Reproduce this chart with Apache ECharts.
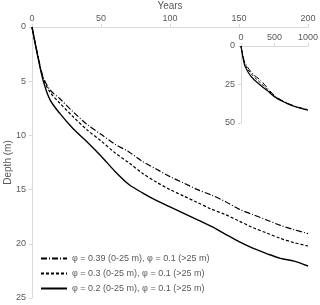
<!DOCTYPE html>
<html><head><meta charset="utf-8">
<script src="https://cdn.jsdelivr.net/npm/echarts@6/dist/echarts.min.js"></script>
<style>html,body{margin:0;padding:0;background:#fff}#c{width:320px;height:305px}</style>
</head><body><div id="c"></div>
<script>
// Main chart (years 0-200)
var years = [0, 4, 8, 13, 20, 30, 40, 50, 60, 70, 80, 90, 100, 110, 120, 130, 140, 150, 160, 170, 180, 190, 200];
var depthPhi02  = [0, 2.6, 4.9, 6.7, 7.95, 9.4, 10.6, 11.9, 13.3, 14.5, 15.3, 16.0, 16.6, 17.2, 17.8, 18.4, 19.1, 19.8, 20.4, 20.9, 21.35, 21.6, 22.05];
var depthPhi03  = [0, 2.5, 4.7, 6.0, 7.0, 8.3, 9.5, 10.5, 11.6, 12.5, 13.5, 14.3, 15.0, 15.6, 16.2, 16.8, 17.3, 17.9, 18.5, 19.0, 19.5, 19.9, 20.2];
var depthPhi039 = [0, 2.5, 4.6, 5.8, 6.6, 7.85, 9.0, 9.9, 10.8, 11.5, 12.4, 13.1, 13.8, 14.4, 15.0, 15.5, 16.1, 16.8, 17.3, 17.8, 18.3, 18.7, 19.06];
// Inset (years 0-1000)
var longYears = [0, 50, 100, 150, 200, 300, 400, 500, 600, 700, 800, 900, 1000];
var longPhi02  = [0, 11.9, 16.6, 19.8, 22.05, 25.8, 29.3, 33.0, 35.6, 37.6, 39.3, 40.6, 41.6];
var longPhi03  = [0, 10.5, 15.0, 17.9, 20.2, 24.3, 28.6, 32.6, 35.3, 37.4, 39.1, 40.4, 41.4];
var longPhi039 = [0, 9.9, 13.8, 16.8, 19.06, 22.6, 27.6, 32.2, 35.1, 37.3, 39.0, 40.3, 41.3];
var names = ['\u03c6 = 0.39 (0-25 m), \u03c6 = 0.1 (>25 m)', '\u03c6 = 0.3 (0-25 m), \u03c6 = 0.1 (>25 m)', '\u03c6 = 0.2 (0-25 m), \u03c6 = 0.1 (>25 m)'];
var xTicks = [0, 50, 100, 150, 200];
var yTicks = [0, 5, 10, 15, 20, 25];

function pairs(xs, ys) { return xs.map(function (x, i) { return [x, ys[i]]; }); }
var gray = '#595959', axisCol = '#d9d9d9', font = 'Liberation Sans, Arial, sans-serif';
var styles = [
  {type: [6, 2, 1, 2], width: 1.2},
  {type: [3, 2], width: 1.2},
  {type: 'solid', width: 1.4}
];
var mainData = [depthPhi039, depthPhi03, depthPhi02];
var longData = [longPhi039, longPhi03, longPhi02];
var series = [];
for (var i = 0; i < 3; i++) {
  series.push({name: names[i], type: 'line', xAxisIndex: 0, yAxisIndex: 0, symbol: 'none', showSymbol: false, smooth: 0.3,
    lineStyle: {color: '#000', type: styles[i].type, width: styles[i].width}, itemStyle: {color: '#000'},
    data: pairs(years, mainData[i])});
}
for (var j = 0; j < 3; j++) {
  series.push({name: names[j], type: 'line', xAxisIndex: 1, yAxisIndex: 1, symbol: 'none', showSymbol: false, smooth: 0.3,
    lineStyle: {color: '#000', type: styles[j].type, width: styles[j].width - 0.2},
    data: pairs(longYears, longData[j])});
}
function ax(extra) {
  var base = {
    axisLine: {show: true, lineStyle: {color: axisCol, width: 1}},
    axisTick: {show: true, length: 3, lineStyle: {color: axisCol}},
    splitLine: {show: false},
    axisLabel: {color: gray, fontSize: 9, fontFamily: font}
  };
  for (var k in extra) base[k] = extra[k];
  return base;
}
var plain = function (v) { return String(v); };
var chart = echarts.init(document.getElementById('c'), null, {renderer: 'canvas'});
chart.setOption({
  animation: false,
  backgroundColor: '#fff',
  grid: [
    {left: 32, right: 12, top: 27, bottom: 7, containLabel: false, outerBoundsMode: 'none'},
    {left: 241, top: 46, width: 67, height: 77, containLabel: false, outerBoundsMode: 'none'}
  ],
  xAxis: [
    ax({type: 'value', gridIndex: 0, position: 'top', min: xTicks[0], max: xTicks[xTicks.length - 1], interval: 50,
      name: 'Years', nameLocation: 'middle', nameGap: 16, nameMoveOverlap: false,
      nameTextStyle: {color: gray, fontSize: 10, fontFamily: font},
      axisLabel: {color: gray, fontSize: 9, fontFamily: font, margin: 4, formatter: plain}}),
    ax({type: 'value', gridIndex: 1, position: 'top', min: 0, max: 1000, interval: 500,
      axisLabel: {color: gray, fontSize: 9, fontFamily: font, margin: 4, formatter: plain}})
  ],
  yAxis: [
    ax({type: 'value', gridIndex: 0, inverse: true, min: yTicks[0], max: yTicks[yTicks.length - 1], interval: 5,
      name: 'Depth (m)', nameLocation: 'middle', nameGap: 19, nameRotate: 90, nameMoveOverlap: false,
      nameTextStyle: {color: gray, fontSize: 10, fontFamily: font},
      axisLabel: {color: gray, fontSize: 9, fontFamily: font, margin: 6, formatter: plain}}),
    ax({type: 'value', gridIndex: 1, inverse: true, min: 0, max: 50, interval: 25,
      axisLabel: {color: gray, fontSize: 9, fontFamily: font, margin: 6, formatter: plain}})
  ],
  legend: {
    orient: 'vertical', left: 40, top: 254, itemWidth: 26, itemHeight: 8, itemGap: 6,
    itemStyle: {opacity: 0},
    data: names, textStyle: {color: gray, fontSize: 9, fontFamily: font}, padding: 0
  },
  series: series
});
</script></body></html>
